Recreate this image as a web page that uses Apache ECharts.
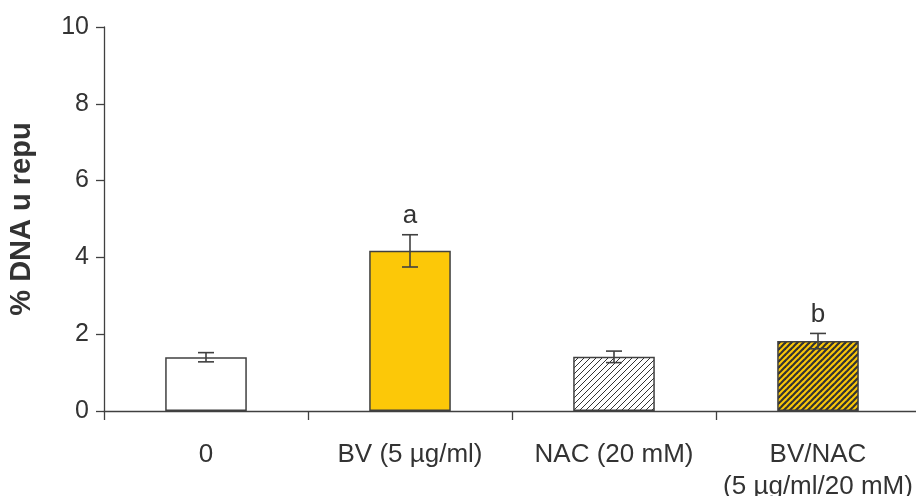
<!DOCTYPE html>
<html>
<head>
<meta charset="utf-8">
<script src="https://cdn.jsdelivr.net/npm/echarts@6/dist/echarts.min.js"></script>
<style>html,body{margin:0;padding:0;background:#fff;}#c{width:916px;height:496px;}</style>
</head>
<body>
<div id="c"></div>
<script>
const categories = ['0', 'BV (5 µg/ml)', 'NAC (20 mM)', 'BV/NAC\n(5 µg/ml/20 mM)'];
const means = [1.40, 4.17, 1.41, 1.82];
const errors = [0.12, 0.42, 0.15, 0.20];
const sigLabels = ['', 'a', '', 'b'];
const yTickLabels = ['0', '2', '4', '6', '8', '10'];

function hatch(bg, fg, lw, s) {
  const c = document.createElement('canvas');
  c.width = s; c.height = s;
  const ctx = c.getContext('2d');
  ctx.fillStyle = bg; ctx.fillRect(0, 0, s, s);
  ctx.strokeStyle = fg; ctx.lineWidth = lw;
  for (let k = -s; k <= s; k += s) {
    ctx.beginPath(); ctx.moveTo(k - 1, s + 1); ctx.lineTo(k + s + 1, -1); ctx.stroke();
  }
  return c;
}
const fills = [
  '#ffffff',
  '#FCC808',
  { image: hatch('#ffffff', '#333333', 1, 6), repeat: 'repeat' },
  { image: hatch('#FCC808', '#333333', 2.2, 6), repeat: 'repeat' }
];
const AX = '#404040';
const FONT = '"Liberation Sans", Arial, sans-serif';

const chart = echarts.init(document.getElementById('c'), null, { renderer: 'canvas' });
chart.setOption({
  animation: false,
  backgroundColor: '#fff',
  grid: { left: 104, right: -4, top: 27, bottom: 85, containLabel: false, outerBoundsMode: 'none' },
  xAxis: {
    type: 'category',
    data: categories,
    axisLine: { lineStyle: { color: AX, width: 1.3 } },
    axisTick: { show: true, alignWithLabel: false, length: 9, lineStyle: { color: AX, width: 1.3 } },
    axisLabel: { color: '#333', fontSize: 26, fontFamily: FONT, margin: 28, lineHeight: 32, interval: 0 }
  },
  yAxis: {
    type: 'value', min: 0, max: 10, interval: 2,
    name: '% DNA u repu', nameLocation: 'middle', nameGap: 68,
    nameTextStyle: { color: '#333', fontSize: 29, fontWeight: 'bold', fontFamily: FONT },
    splitLine: { show: false },
    axisLine: { show: true, lineStyle: { color: AX, width: 1.3 } },
    axisTick: { show: true, length: 8, lineStyle: { color: AX, width: 1.3 } },
    axisLabel: { color: '#333', fontSize: 25, fontFamily: FONT, margin: 15,
      formatter: v => yTickLabels[Math.round(v / 2)] }
  },
  series: [
    {
      type: 'bar',
      barWidth: '40%',
      data: means.map((m, i) => ({ value: m, itemStyle: { color: fills[i] } })),
      itemStyle: { borderColor: AX, borderWidth: 1.5 }
    },
    {
      type: 'custom',
      z: 5,
      data: means.map((m, i) => [i, m, errors[i]]),
      encode: { x: 0, y: 1 },
      renderItem: function (params, api) {
        const i = api.value(0), m = api.value(1), e = api.value(2);
        const top = api.coord([i, m + e]);
        const bot = api.coord([i, m - e]);
        const hw = 8;
        const st = { stroke: AX, lineWidth: 1.6 };
        const children = [
          { type: 'line', shape: { x1: top[0], y1: top[1], x2: bot[0], y2: bot[1] }, style: st },
          { type: 'line', shape: { x1: top[0] - hw, y1: top[1], x2: top[0] + hw, y2: top[1] }, style: st },
          { type: 'line', shape: { x1: bot[0] - hw, y1: bot[1], x2: bot[0] + hw, y2: bot[1] }, style: st }
        ];
        const lab = sigLabels[i];
        if (lab) {
          children.push({ type: 'text', style: { text: lab, x: top[0], y: top[1] - 6,
            align: 'center', verticalAlign: 'bottom', fill: '#333', font: '26px ' + FONT } });
        }
        return { type: 'group', children: children };
      }
    }
  ]
});
</script>
</body>
</html>
